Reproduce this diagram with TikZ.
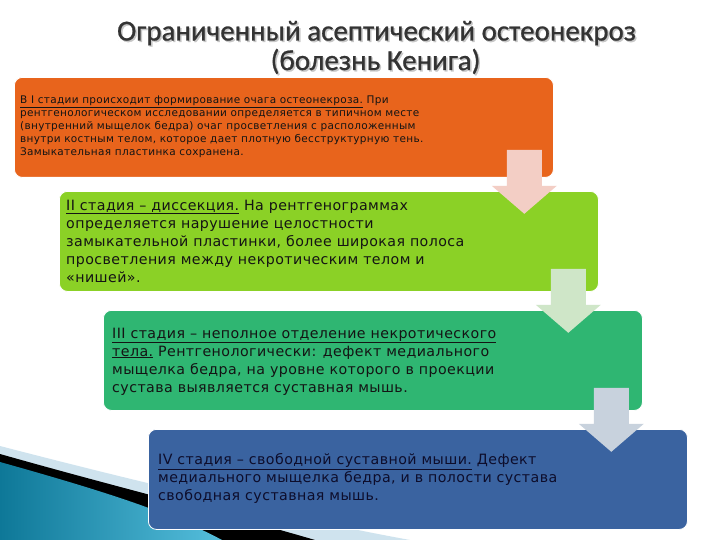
\documentclass[tikz,border=0pt]{standalone}
\usepackage{fontspec}
\setmainfont{DejaVu Sans}
\newfontfamily\titlefont[FakeBold=0.8]{Carlito}
\newfontfamily\boxfont[LetterSpace=3]{DejaVu Sans}
\usetikzlibrary{calc}
\newcommand{\stul}[1]{\underline{#1}}
\definecolor{orangebox}{HTML}{E8641C}
\definecolor{limebox}{HTML}{8BD126}
\definecolor{greenbox}{HTML}{2FB672}
\definecolor{bluebox}{HTML}{3A63A0}
\definecolor{arrowpink}{HTML}{F3CEC5}
\definecolor{arrowgreen}{HTML}{CFE6C8}
\definecolor{arrowblue}{HTML}{C8D2DD}
\definecolor{titlegray}{HTML}{333333}
\definecolor{tealdark}{HTML}{0E7898}
\definecolor{teallight}{HTML}{55BEDC}
\definecolor{palesky}{HTML}{CFE3EE}
\definecolor{navytext}{HTML}{0D0D2B}
\tikzset{
  stagebox/.style={rounded corners=8pt, minimum width=539pt, minimum height=100pt, anchor=north west, inner sep=0pt, draw=white, line width=0.8pt},
  smalltext/.style={anchor=north west, inner sep=0pt, align=left, text=black!92, font=\boxfont\fontsize{10.5}{13}\selectfont},
  bigtext/.style={anchor=north west, inner sep=0pt, align=left, text=black!92, font=\boxfont\fontsize{14.2}{18}\selectfont},
  titletext/.style={font=\titlefont\fontsize{29}{33}\selectfont, inner sep=0pt, anchor=base}
}
\newcommand{\stagearrow}[2]{%
  \fill[#2, shift={(#1)}] (-17.5,0) -- (17.5,0) -- (17.5,36) -- (32.5,36) -- (0,64) -- (-32.5,36) -- (-17.5,36) -- cycle;}
\begin{document}
\begin{tikzpicture}[x=1pt,y=-1pt]
\useasboundingbox (0,0) rectangle (720,540);
\fill[white] (0,0) rectangle (720,540);

% decoration bottom left
\fill[palesky] (0,446) .. controls (150,485) and (300,520) .. (410,540) -- (0,540) -- cycle;
\fill[black] (0,454) .. controls (120,488) and (230,515) .. (315,540) -- (0,540) -- cycle;
\shade[left color=tealdark, right color=teallight] (0,462) .. controls (100,490) and (170,512) .. (222,540) -- (0,540) -- cycle;

% title
\node[titletext, text=black!22] at (378,42) {Ограниченный асептический остеонекроз};
\node[titletext, text=titlegray] (title1) at (376.5,40.5) {Ограниченный асептический остеонекроз};
\node[titletext, text=black!22] at (377,71.5) {(болезнь Кенига)};
\node[titletext, text=titlegray] (title2) at (375.5,70) {(болезнь Кенига)};

% boxes
\node[stagebox, fill=orangebox] (s1) at (14,77) {};
\node[stagebox, fill=limebox] (s2) at (59,191) {};
\node[stagebox, fill=greenbox] (s3) at (103,310) {};
\node[stagebox, fill=bluebox] (s4) at (148,429) {};

% texts
\node[smalltext] (t1) at (20,95.5) {\stul{В I стадии происходит формирование очага остеонекроза.} При\\
рентгенологическом исследовании определяется в типичном месте\\
(внутренний мыщелок бедра) очаг просветления с расположенным\\
внутри костным телом, которое дает плотную бесструктурную тень.\\
Замыкательная пластинка сохранена.};

\node[bigtext] (t2) at (66,199.5) {\stul{II стадия – диссекция.} На рентгенограммах\\
определяется нарушение целостности\\
замыкательной пластинки, более широкая полоса\\
просветления между некротическим телом и\\
«нишей».};

\node[bigtext] (t3) at (112,327.5) {\stul{III стадия – неполное отделение некротического}\\
\stul{тела.} Рентгенологически: дефект медиального\\
мыщелка бедра, на уровне которого в проекции\\
сустава выявляется суставная мышь.};

\node[bigtext, text=navytext] (t4) at (158,453.5) {\stul{IV стадия – свободной суставной мыши.} Дефект\\
медиального мыщелка бедра, и в полости сустава\\
свободная суставная мышь.};

% arrows between stages
\coordinate (a1) at ($(s1.south east)+(-29.5,-28)$);
\coordinate (a2) at ($(s2.south east)+(-30.5,-23)$);
\coordinate (a3) at ($(s3.south east)+(-31.5,-23)$);
\stagearrow{a1}{arrowpink}
\stagearrow{a2}{arrowgreen}
\stagearrow{a3}{arrowblue}
\end{tikzpicture}
\end{document}
